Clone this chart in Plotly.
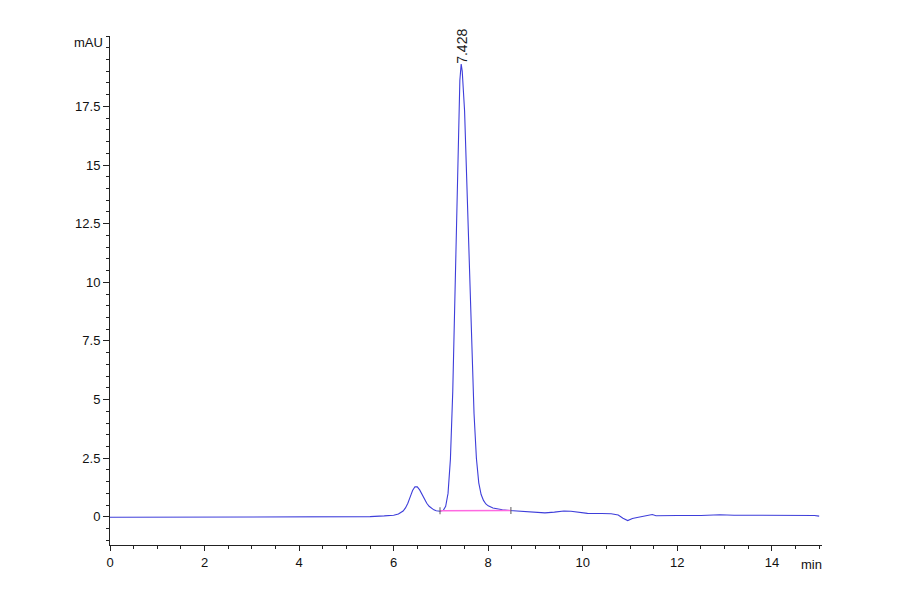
import plotly.graph_objects as go

# Chromatogram trace (retention time in min, absorbance in mAU)
time_min = [
    0.0, 1.0, 2.0, 3.0, 4.0, 5.0, 5.5, 5.8, 6.0, 6.1, 6.2, 6.25, 6.3, 6.35,
    6.4, 6.45, 6.5, 6.55, 6.6, 6.65, 6.7, 6.75, 6.8, 6.85, 6.9, 6.95, 6.98,
    7.05, 7.1, 7.15, 7.2, 7.25, 7.3, 7.35, 7.4, 7.428, 7.45, 7.5, 7.55, 7.6,
    7.65, 7.7, 7.75, 7.8, 7.85, 7.9, 7.95, 8.0, 8.1, 8.2, 8.3, 8.45, 8.6,
    8.8, 9.0, 9.2, 9.4, 9.6, 9.75, 9.9, 10.1, 10.4, 10.6, 10.75, 10.85,
    10.95, 11.0, 11.05, 11.15, 11.3, 11.47, 11.55, 11.7, 12.0, 12.5, 12.9,
    13.2, 14.0, 14.7, 14.9, 15.0,
]
signal_mau = [
    -0.02, -0.02, -0.02, -0.02, -0.01, 0.0, 0.01, 0.04, 0.07, 0.12, 0.25,
    0.38, 0.58, 0.85, 1.12, 1.28, 1.28, 1.15, 0.95, 0.75, 0.58, 0.45, 0.36,
    0.30, 0.26, 0.24, 0.24, 0.28, 0.45, 1.0, 2.45, 5.35, 9.9, 15.0, 18.6,
    19.3, 19.0, 17.3, 14.2, 10.6, 7.1, 4.4, 2.5, 1.45, 0.95, 0.70, 0.55,
    0.47, 0.38, 0.33, 0.30, 0.27, 0.25, 0.23, 0.20, 0.17, 0.20, 0.25, 0.24,
    0.19, 0.15, 0.14, 0.13, 0.08, -0.06, -0.16, -0.10, -0.07, -0.03, 0.02,
    0.10, 0.05, 0.06, 0.06, 0.06, 0.09, 0.07, 0.07, 0.08, 0.06, 0.03,
]

# Integration baseline of the main peak
baseline_time = [6.98, 8.48]
baseline_mau = [0.26, 0.27]

peak_time = 7.428
peak_height = 19.3
peak_label = "7.428"

y_ticks = [0, 2.5, 5, 7.5, 10, 12.5, 15, 17.5]
x_ticks = [0, 2, 4, 6, 8, 10, 12, 14]

font_family = "Liberation Sans Narrow, Liberation Sans, Arial, sans-serif"
axis_color = '#222222'

fig = go.Figure()

fig.add_trace(go.Scatter(
    x=time_min,
    y=signal_mau,
    mode='lines',
    line=dict(color='rgb(62,62,218)', width=1.1),
    hoverinfo='x+y',
    showlegend=False
))

fig.add_trace(go.Scatter(
    x=baseline_time,
    y=baseline_mau,
    mode='lines+markers',
    line=dict(color='rgb(255,105,225)', width=1.6),
    marker=dict(symbol='line-ns', size=5,
                line=dict(color='rgb(90,90,90)', width=1)),
    showlegend=False
))

fig.add_annotation(
    x=peak_time, y=peak_height,
    text=peak_label,
    textangle=-90,
    showarrow=False,
    yanchor='bottom',
    yshift=-2,
    font=dict(family=font_family, size=14, color='#1a1a1a')
)

fig.add_annotation(
    xref='paper', yref='paper', x=0, y=1,
    text="mAU", showarrow=False,
    xanchor='right', yanchor='top', xshift=-5, yshift=3,
    font=dict(family=font_family, size=13, color='#111111')
)

fig.add_annotation(
    xref='paper', yref='paper', x=1, y=0,
    text="min", showarrow=False,
    xanchor='right', yanchor='top', xshift=2, yshift=-10,
    font=dict(family=font_family, size=13, color='#111111')
)

# page body adds an 8px offset, so margins are trimmed to keep the plot area
fig.update_layout(
    width=900,
    height=594,
    margin=dict(l=102, r=86, t=28, b=57),
    paper_bgcolor='white',
    plot_bgcolor='white',
    font=dict(family=font_family, size=13, color='#111111'),
    xaxis=dict(
        range=[0, 15.06],
        tickvals=x_ticks,
        ticks='outside', ticklen=5, tickcolor=axis_color,
        showline=True, linecolor=axis_color, linewidth=1,
        showgrid=False, zeroline=False, automargin=False,
        minor=dict(dtick=0.5, ticks='outside', ticklen=3,
                   tickcolor=axis_color, showgrid=False),
    ),
    yaxis=dict(
        range=[-1.2, 20.5],
        tickvals=y_ticks,
        ticktext=[f"{v:g}" for v in y_ticks],
        ticks='outside', ticklen=6, tickcolor=axis_color,
        showline=True, linecolor=axis_color, linewidth=1,
        showgrid=False, zeroline=False, automargin=False,
        minor=dict(dtick=0.5, ticks='outside', ticklen=3,
                   tickcolor=axis_color, showgrid=False),
    ),
)

fig.write_html("out.html")
